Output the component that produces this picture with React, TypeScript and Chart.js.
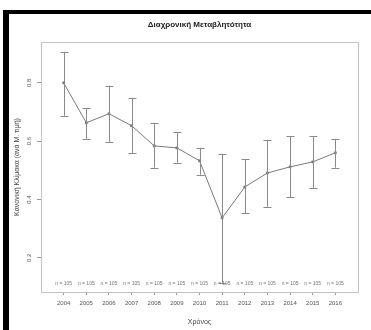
import React, { useEffect, useRef } from "react";
import { Chart, registerables } from "chart.js";

Chart.register(...registerables);

const years = [2004, 2005, 2006, 2007, 2008, 2009, 2010, 2011, 2012, 2013, 2014, 2015, 2016];
const means = [0.8, 0.663, 0.694, 0.653, 0.584, 0.577, 0.533, 0.337, 0.443, 0.491, 0.512, 0.529, 0.56];
const uppers = [0.906, 0.714, 0.79, 0.749, 0.663, 0.632, 0.577, 0.557, 0.539, 0.605, 0.618, 0.618, 0.608];
const lowers = [0.687, 0.608, 0.598, 0.56, 0.509, 0.526, 0.485, 0.114, 0.354, 0.375, 0.409, 0.44, 0.509];
const counts = [105, 105, 105, 105, 105, 105, 105, 105, 105, 105, 105, 105, 105];
const yTicks = [0.2, 0.4, 0.6, 0.8];

const FONT = "'Liberation Sans', Arial, sans-serif";

const errorBarPlugin = {
  id: "errorBars",
  afterDatasetsDraw(chart: any) {
    const { ctx, scales, chartArea } = chart;
    const xs = scales.x;
    const ys = scales.y;
    ctx.save();
    ctx.strokeStyle = "#8a8a8a";
    ctx.lineWidth = 1;
    years.forEach((yr, i) => {
      const x = Math.round(xs.getPixelForValue(yr)) + 0.5;
      const yt = ys.getPixelForValue(uppers[i]);
      const yb = ys.getPixelForValue(lowers[i]);
      ctx.beginPath();
      ctx.moveTo(x, yt);
      ctx.lineTo(x, yb);
      ctx.moveTo(x - 4, Math.round(yt) + 0.5);
      ctx.lineTo(x + 4, Math.round(yt) + 0.5);
      ctx.moveTo(x - 4, Math.round(yb) + 0.5);
      ctx.lineTo(x + 4, Math.round(yb) + 0.5);
      ctx.stroke();
    });
    ctx.fillStyle = "#777";
    ctx.font = `5px ${FONT}`;
    ctx.textAlign = "center";
    ctx.textBaseline = "middle";
    years.forEach((yr, i) => {
      const x = xs.getPixelForValue(yr);
      ctx.fillText(`n = ${counts[i]}`, x, chartArea.bottom - 8);
    });
    ctx.strokeStyle = "#c4c4c4";
    ctx.strokeRect(
      Math.round(chartArea.left) + 0.5,
      Math.round(chartArea.top) + 0.5,
      Math.round(chartArea.right - chartArea.left),
      Math.round(chartArea.bottom - chartArea.top)
    );
    ctx.restore();
  },
};

export default function App() {
  const ref = useRef<HTMLCanvasElement>(null);
  useEffect(() => {
    if (!ref.current) return;
    const chart = new Chart(ref.current, {
      type: "line",
      data: {
        datasets: [
          {
            data: years.map((y, i) => ({ x: y, y: means[i] })),
            borderColor: "#7a7a7a",
            borderWidth: 1,
            pointStyle: "rect",
            pointRadius: 1.5,
            pointBackgroundColor: "#777",
            pointBorderColor: "#777",
            pointBorderWidth: 0.5,
            tension: 0,
          },
        ],
      },
      options: {
        animation: false,
        responsive: false,
        layout: { padding: { left: 0, right: 13, top: 0, bottom: 0 } },
        plugins: {
          legend: { display: false },
          tooltip: { enabled: false },
          title: {
            display: true,
            fullSize: false,
            text: "Διαχρονική Μεταβλητότητα",
            color: "#222",
            font: { family: FONT, size: 8, weight: "bold", lineHeight: 1.2 },
            padding: { top: 20, bottom: 12.4 },
          },
        },
        scales: {
          x: {
            type: "linear",
            min: 2003,
            max: 2017,
            afterBuildTicks: (s: any) => {
              s.ticks = years.map((v) => ({ value: v }));
            },
            afterFit: (s: any) => {
              s.height = 38;
            },
            grid: {
              display: true,
              drawOnChartArea: false,
              tickLength: 3,
              color: "#999",
            },
            border: { display: true, color: "#c4c4c4" },
            ticks: {
              color: "#555",
              font: { family: FONT, size: 6 },
              padding: 5,
              maxRotation: 0,
              minRotation: 0,
              autoSkip: false,
              callback: (v: any) => String(v),
            },
            title: {
              display: true,
              text: "Χρόνος",
              color: "#444",
              font: { family: FONT, size: 7, lineHeight: 1.2 },
              padding: { top: 0, bottom: 4 },
            },
          },
          y: {
            type: "linear",
            min: 0.083,
            max: 0.94,
            afterBuildTicks: (s: any) => {
              s.ticks = yTicks.map((v) => ({ value: v }));
            },
            afterFit: (s: any) => {
              s.width = 41;
            },
            grid: {
              display: true,
              drawOnChartArea: false,
              tickLength: 4,
              color: "#999",
            },
            border: { display: true, color: "#c4c4c4" },
            ticks: {
              color: "#555",
              font: { family: FONT, size: 6 },
              padding: 3,
              minRotation: 90,
              maxRotation: 90,
              crossAlign: "center",
              callback: (v: any) => Number(v).toFixed(1),
            },
            title: {
              display: true,
              text: "Κανονική Κλίμακα (ανά Μ. τιμή)",
              color: "#444",
              font: { family: FONT, size: 7, lineHeight: 1.2 },
              padding: { top: 13, bottom: 0 },
            },
          },
        },
      },
      plugins: [errorBarPlugin],
    } as any);
    return () => chart.destroy();
  }, []);

  return (
    <div style={{ position: "absolute", left: 0, top: 0, width: 371, height: 330, background: "#fff" }}>
      <canvas ref={ref} width={371} height={330} style={{ position: "absolute", left: 0, top: 0 }} />
      <div style={{ position: "absolute", left: 3, top: 10, width: 6, height: 320, background: "#000" }} />
      <div style={{ position: "absolute", left: 3, top: 10, width: 368, height: 4, background: "#000" }} />
    </div>
  );
}
